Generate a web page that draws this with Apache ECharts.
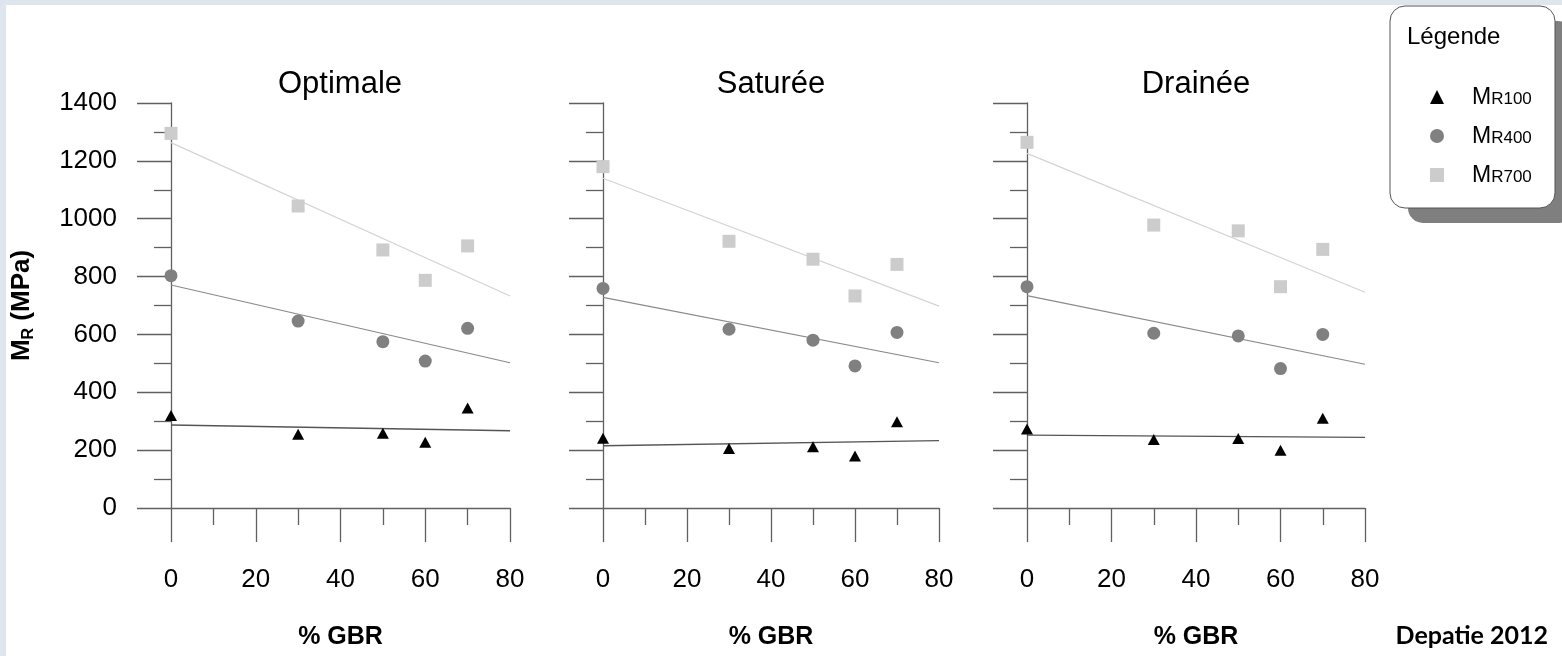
<!DOCTYPE html>
<html>
<head>
<meta charset="utf-8">
<script src="https://cdn.jsdelivr.net/npm/echarts@6/dist/echarts.min.js"></script>
<style>
  html, body { margin: 0; padding: 0; background: #dfe5ec; }
  #main { width: 1562px; height: 656px; }
</style>
</head>
<body>
<div id="main"></div>
<script>
// % GBR positions of the measures
var gbr = [0, 30, 50, 60, 70];
var trendX = [0, 80];
var panelNames = ['Optimale', 'Saturée', 'Drainée'];
var legendNames = ['MR100', 'MR400', 'MR700'];

// Optimale
var optMR100 = [320, 255, 258, 227, 346];
var optMR400 = [803, 646, 575, 508, 621];
var optMR700 = [1295, 1044, 892, 787, 906];
var optTrend100 = [287, 267];
var optTrend400 = [771, 502];
var optTrend700 = [1263, 733];

// Saturée
var satMR100 = [241, 206, 212, 180, 298];
var satMR400 = [759, 618, 580, 491, 607];
var satMR700 = [1180, 922, 860, 733, 842];
var satTrend100 = [215, 233];
var satTrend400 = [728, 502];
var satTrend700 = [1140, 698];

// Drainée
var draMR100 = [273, 237, 240, 200, 310];
var draMR400 = [765, 604, 595, 482, 600];
var draMR700 = [1264, 978, 958, 765, 894];
var draTrend100 = [252, 244];
var draTrend400 = [734, 497];
var draTrend700 = [1226, 746];

var FONT = '"Liberation Sans", Arial, sans-serif';
var AXIS_COLOR = '#606060';

var pts = [
    [optMR100, optMR400, optMR700],
    [satMR100, satMR400, satMR700],
    [draMR100, draMR400, draMR700]
];
var trends = [
    [optTrend100, optTrend400, optTrend700],
    [satTrend100, satTrend400, satTrend700],
    [draTrend100, draTrend400, draTrend700]
];

//marker style of each series
var symbols = ['triangle', 'circle', 'rect'];
var symbolSizes = [[12, 11], 13, 13];
var markColors = ['#000000', '#808080', '#cccccc'];
var lineColors = ['#555555', '#8a8a8a', '#d4d4d4'];
var lineWidths = [1.4, 1.2, 1.2];

var grids = [
    {left: 171, top: 103, width: 339, height: 405},
    {left: 603, top: 103, width: 336, height: 405},
    {left: 1027, top: 103, width: 338, height: 405}
];
var titleCenters = [340, 771, 1196];

function pairs(xs, ys) {
    var out = [];
    for (var i = 0; i < xs.length; i++) out.push([xs[i], ys[i]]);
    return out;
}

var xAxes = [], yAxes = [], series = [], titles = [];
for (var p = 0; p < 3; p++) {
    titles.push({
        text: panelNames[p], left: titleCenters[p], top: 69, textAlign: 'center', padding: 0,
        textStyle: {fontSize: 31, fontWeight: 'normal', color: '#000', fontFamily: FONT}
    });
    xAxes.push({
        gridIndex: p, type: 'value', min: 0, max: 80, interval: 20,
        axisLine: {lineStyle: {color: AXIS_COLOR, width: 1.3}},
        axisTick: {length: 34, lineStyle: {color: AXIS_COLOR, width: 1.3}},
        minorTick: {show: true, splitNumber: 2, length: 17, lineStyle: {color: AXIS_COLOR, width: 1.3}},
        axisLabel: {margin: 59, fontSize: 26, color: '#000', fontFamily: FONT},
        splitLine: {show: false},
        name: '% GBR', nameLocation: 'middle', nameGap: 117,
        nameTextStyle: {fontSize: 25, fontWeight: 'bold', color: '#000', fontFamily: FONT}
    });
    var ya = {
        gridIndex: p, type: 'value', min: 0, max: 1400, interval: 200,
        axisLine: {show: true, lineStyle: {color: AXIS_COLOR, width: 1.3}},
        axisTick: {show: true, length: 34, lineStyle: {color: AXIS_COLOR, width: 1.3}},
        minorTick: {show: true, splitNumber: 2, length: 17, lineStyle: {color: AXIS_COLOR, width: 1.3}},
        axisLabel: {
            show: p === 0, margin: 54, fontSize: 26, color: '#000', fontFamily: FONT,
            formatter: function (v) { return String(v); }
        },
        splitLine: {show: false}
    };
    if (p === 0) {
        ya.name = '{a|M}{b|R}{a| (MPa)}';
        ya.nameLocation = 'middle';
        ya.nameGap = 134;
        ya.nameTextStyle = {
            color: '#000',
            rich: {
                a: {fontSize: 26, lineHeight: 28, fontWeight: 'bold', color: '#000', fontFamily: FONT, verticalAlign: 'top'},
                b: {fontSize: 16, lineHeight: 16, fontWeight: 'bold', color: '#000', fontFamily: FONT,
                    verticalAlign: 'bottom', padding: [8, 0, 0, 0]}
            }
        };
    }
    yAxes.push(ya);

    for (var k = 0; k < 3; k++) {
        series.push({
            name: 'trend' + p + k, type: 'line', xAxisIndex: p, yAxisIndex: p,
            data: pairs(trendX, trends[p][k]), showSymbol: false, silent: true,
            lineStyle: {color: lineColors[k], width: lineWidths[k]}, z: 1
        });
    }
    for (var k = 0; k < 3; k++) {
        series.push({
            name: legendNames[k], type: 'scatter', xAxisIndex: p, yAxisIndex: p,
            data: pairs(gbr, pts[p][k]), symbol: symbols[k], symbolSize: symbolSizes[k],
            itemStyle: {color: markColors[k], opacity: 1}, z: 3
        });
    }
}

var chart = echarts.init(document.getElementById('main'));
chart.setOption({
    animation: false,
    backgroundColor: 'transparent',
    title: titles,
    grid: grids,
    xAxis: xAxes,
    yAxis: yAxes,
    legend: {
        data: legendNames, orient: 'vertical', left: 1430, top: 81, padding: 0,
        itemWidth: 14, itemHeight: 14, itemGap: 11,
        formatter: function (name) { return '{m|M}{s|' + name.slice(1) + '}'; },
        textStyle: {
            rich: {
                m: {fontSize: 23, lineHeight: 22, color: '#000', fontFamily: FONT, verticalAlign: 'top', padding: [0, 0, 0, 23]},
                s: {fontSize: 17, lineHeight: 16, color: '#000', fontFamily: FONT, verticalAlign: 'bottom', padding: [10, 0, 0, 0]}
            }
        }
    },
    graphic: [
        {type: 'rect', z: -100, silent: true, shape: {x: 6, y: 5, width: 1556, height: 651}, style: {fill: '#ffffff'}},
        {type: 'rect', z: -90, silent: true, shape: {x: 1408, y: 21, width: 165, height: 202, r: 15}, style: {fill: '#7f7f7f'}},
        {type: 'rect', z: -80, silent: true, shape: {x: 1390, y: 6, width: 165, height: 202, r: 15}, style: {fill: '#ffffff', stroke: '#555555', lineWidth: 1}},
        {type: 'text', z: 10, silent: true, x: 1407, y: 37,
            style: {text: 'Légende', fontSize: 24, fontFamily: FONT, fill: '#000', align: 'left', verticalAlign: 'middle'}},
        {type: 'text', z: 10, silent: true, x: 1548, y: 636,
            style: {text: 'Depatie 2012', fontSize: 25, fontWeight: 'bold', fontFamily: 'Lato, "Open Sans", sans-serif', fill: '#000', align: 'right', verticalAlign: 'middle'}}
    ],
    series: series
});
</script>
</body>
</html>
